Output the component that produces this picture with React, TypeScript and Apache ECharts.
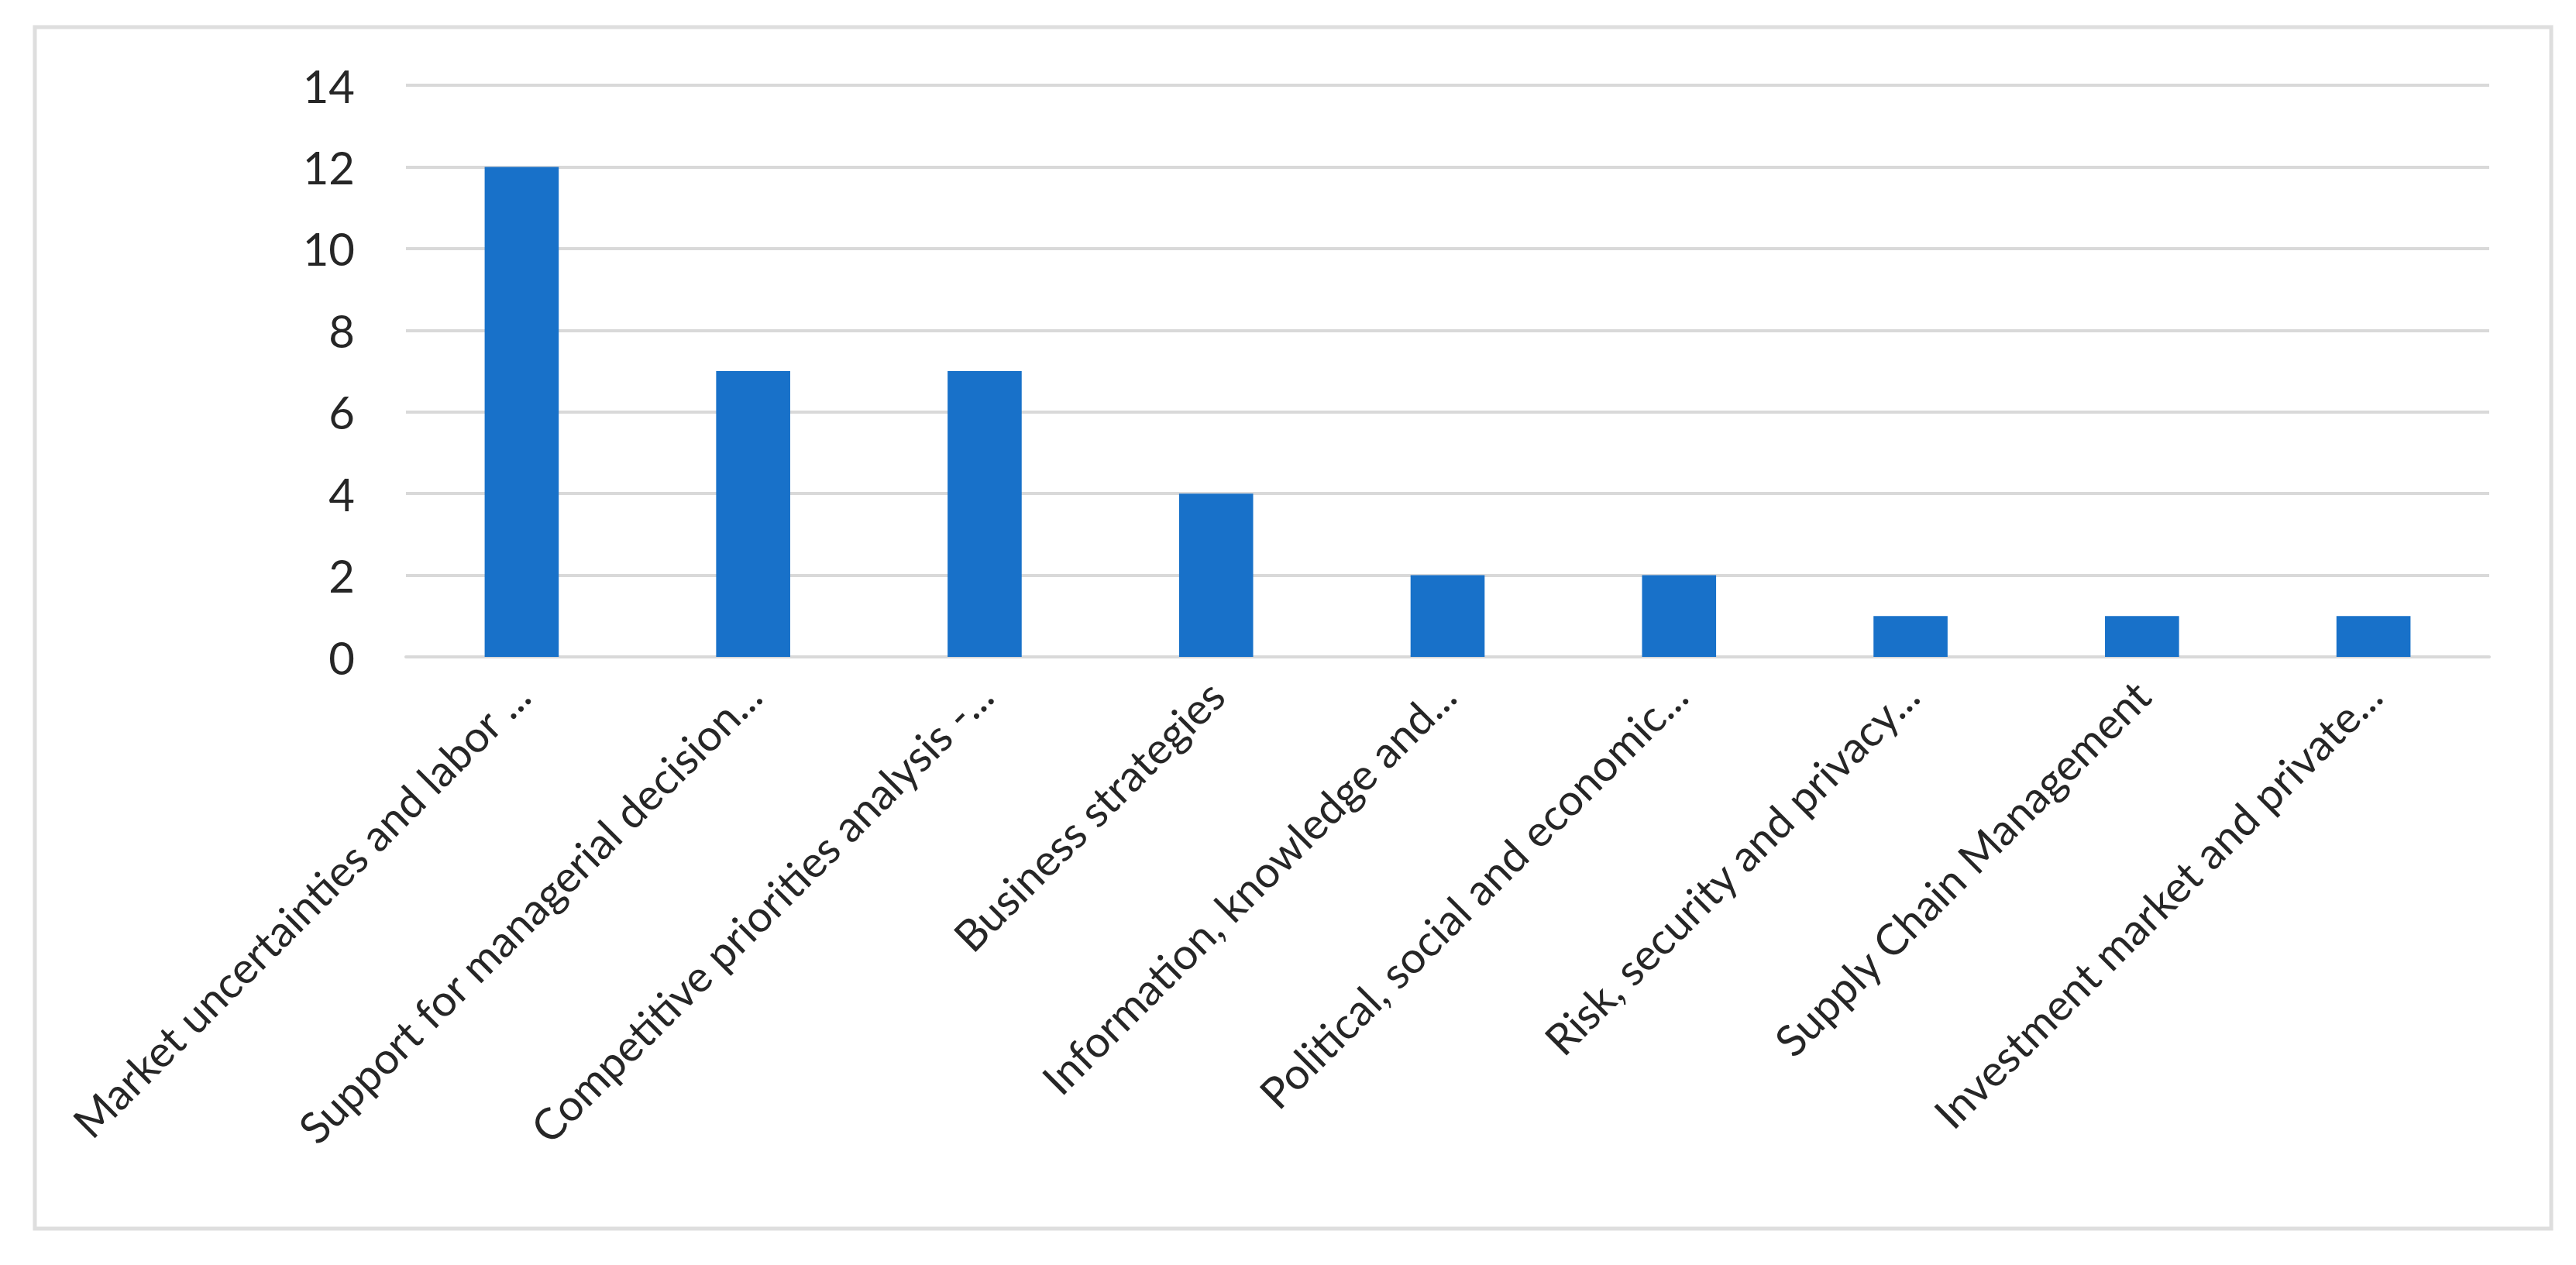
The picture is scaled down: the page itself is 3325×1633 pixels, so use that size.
import React, { useEffect, useRef } from "react";
import * as echarts from "echarts";

const categories = [
  "Market uncertainties and labor ...",
  "Support for managerial decision...",
  "Competitive priorities analysis -...",
  "Business strategies",
  "Information, knowledge and...",
  "Political, social and economic...",
  "Risk, security and privacy...",
  "Supply Chain Management",
  "Investment market and private...",
];
const values = [12, 7, 7, 4, 2, 2, 1, 1, 1];
const yMin = 0;
const yMax = 14;
const yInterval = 2;

const W = 3325;
const H = 1633;

export default function App() {
  const ref = useRef<HTMLDivElement>(null);
  useEffect(() => {
    document.body.style.margin = "0";
    const chart = echarts.init(ref.current!, null, { renderer: "svg" });
    chart.setOption({
      animation: false,
      backgroundColor: "#ffffff",
      graphic: [
        {
          type: "rect",
          shape: { x: 45, y: 35, width: 3248, height: 1551 },
          style: { fill: "none", stroke: "#dedede", lineWidth: 5 },
          silent: true,
        },
      ],
      grid: { left: 524, right: 112, top: 110, bottom: 785, containLabel: false },
      xAxis: {
        type: "category",
        data: categories,
        axisLine: { show: true, lineStyle: { color: "#d9d9d9", width: 4 } },
        axisTick: { show: false },
        axisLabel: {
          rotate: 45,
          interval: 0,
          margin: 40,
          fontFamily: "Lato",
          fontSize: 56,
          color: "#262626",
        },
      },
      yAxis: {
        type: "value",
        min: yMin,
        max: yMax,
        interval: yInterval,
        axisLine: { show: false },
        axisTick: { show: false },
        splitLine: { lineStyle: { color: "#d9d9d9", width: 4 } },
        axisLabel: {
          margin: 66,
          fontFamily: "Lato",
          fontSize: 58,
          color: "#262626",
        },
      },
      series: [
        {
          type: "bar",
          data: values,
          barWidth: "32%",
          itemStyle: { color: "#1871C9" },
        },
      ],
    });
    return () => chart.dispose();
  }, []);
  return <div ref={ref} style={{ width: W, height: H }} />;
}
